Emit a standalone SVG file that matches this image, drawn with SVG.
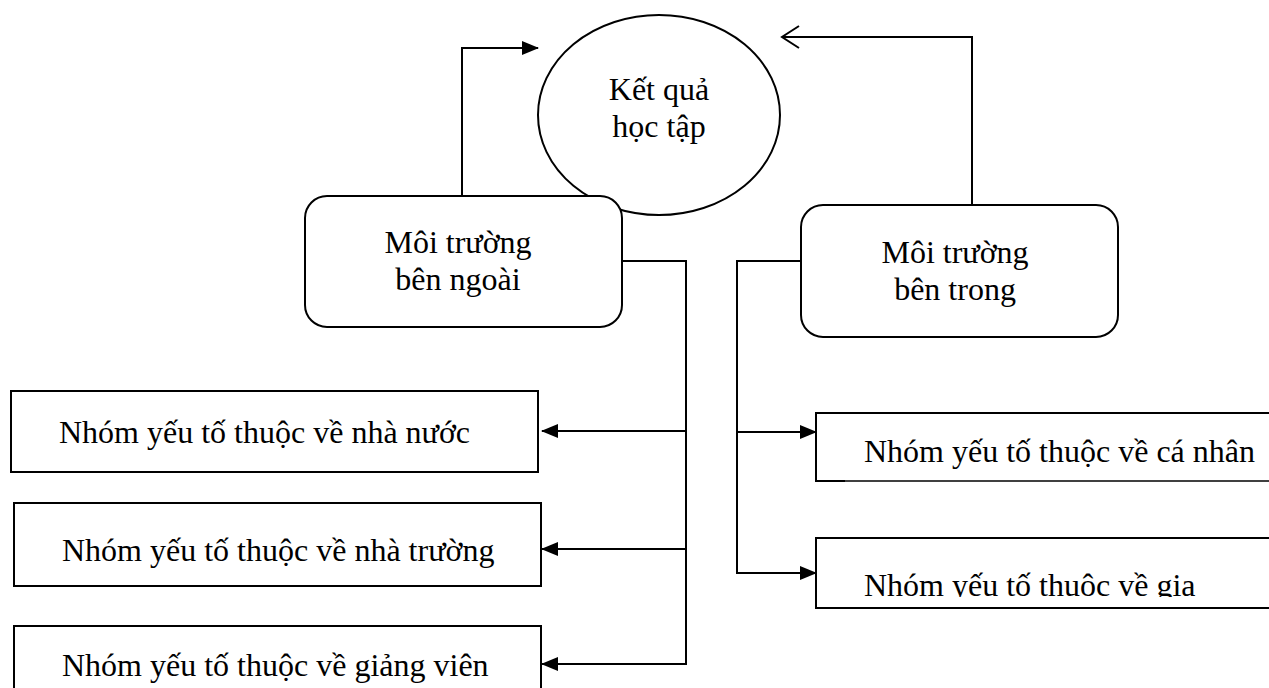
<svg xmlns="http://www.w3.org/2000/svg" width="1269" height="688" viewBox="0 0 1269 688">
<style>
  text { font-family: "Liberation Serif", "Times New Roman", "DejaVu Serif", serif; font-size: 32px; fill: #000; }
  .c { text-anchor: middle; }
  .shape { fill: #fff; stroke: #000; stroke-width: 2; }
  .line { fill: none; stroke: #000; stroke-width: 2; }
</style>
<defs>
  <marker id="fa" markerUnits="userSpaceOnUse" markerWidth="17" markerHeight="16" viewBox="0 0 17 16" refX="16" refY="8" orient="auto">
    <path d="M0,1 L17,8 L0,15 z" fill="#000"/>
  </marker>
  <marker id="oa" markerUnits="userSpaceOnUse" markerWidth="20" markerHeight="26" viewBox="0 0 20 26" refX="18" refY="13" orient="auto">
    <path d="M1,2 L18,13 L1,24" fill="none" stroke="#000" stroke-width="2"/>
  </marker>
  <clipPath id="clipGia"><rect x="816" y="538" width="460" height="59"/></clipPath>
</defs>
<rect width="1269" height="688" fill="#fff"/>

<g id="connectors">
  <path class="line" d="M462,196 V48 H538" marker-end="url(#fa)"/>
  <path class="line" d="M972,205 V37 H782" marker-end="url(#oa)"/>
  <path class="line" d="M622,261 H686 V664"/>
  <path class="line" d="M686,431 H542" marker-end="url(#fa)"/>
  <path class="line" d="M686,549 H542" marker-end="url(#fa)"/>
  <path class="line" d="M687,664 H542" marker-end="url(#fa)"/>
  <path class="line" d="M801,261 H737 V573"/>
  <path class="line" d="M737,432 H816" marker-end="url(#fa)"/>
  <path class="line" d="M736,573 H816" marker-end="url(#fa)"/>
</g>

<g id="node-ketqua">
  <ellipse class="shape" cx="659" cy="115" rx="121" ry="100"/>
  <text class="c" x="659" y="100">Kết quả</text>
  <text class="c" x="659" y="137">học tập</text>
</g>

<g id="node-ngoai">
  <rect class="shape" x="305" y="196" width="317" height="131" rx="22" ry="22"/>
  <text class="c" x="458" y="253">Môi trường</text>
  <text class="c" x="458" y="290">bên ngoài</text>
</g>

<g id="node-trong">
  <rect class="shape" x="801" y="205" width="317" height="132" rx="22" ry="22"/>
  <text class="c" x="955" y="263">Môi trường</text>
  <text class="c" x="955" y="300">bên trong</text>
</g>

<g id="node-nhanuoc">
  <rect class="shape" x="11" y="391" width="527" height="81"/>
  <text x="59" y="443">Nhóm yếu tố thuộc về nhà nước</text>
</g>

<g id="node-nhatruong">
  <rect class="shape" x="14" y="503" width="527" height="83"/>
  <text x="62" y="561">Nhóm yếu tố thuộc về nhà trường</text>
</g>

<g id="node-giangvien">
  <rect class="shape" x="14" y="626" width="527" height="80"/>
  <text x="62" y="676">Nhóm yếu tố thuộc về giảng viên</text>
</g>

<g id="node-canhan">
  <path class="line" d="M1275,413 H816 V481 H845"/>
  <path fill="none" stroke="#000" stroke-width="1.5" d="M845,481 H1275"/>
  <text x="864" y="462">Nhóm yếu tố thuộc về cá nhân</text>
</g>

<g id="node-gia">
  <rect class="shape" x="816" y="538" width="460" height="70"/>
  <text x="864" y="596" clip-path="url(#clipGia)">Nhóm yếu tố thuộc về gia</text>
</g>
</svg>
